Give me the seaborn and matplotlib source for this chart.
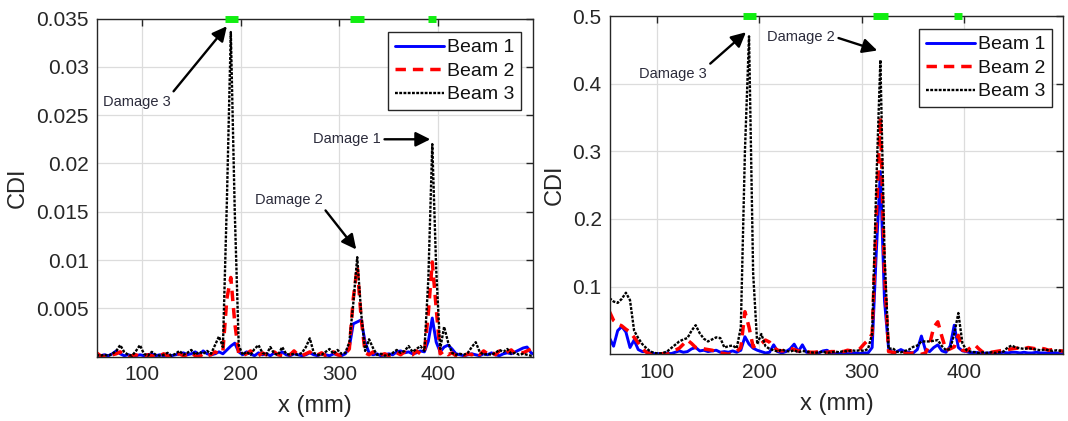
import matplotlib
matplotlib.use("Agg")
import matplotlib.pyplot as plt
import numpy as np
import pandas as pd
import seaborn as sns

# ---------------- data ----------------
x_mm = [54, 58, 62, 66, 70, 74, 78, 82, 86, 90, 94, 98, 102, 106, 110, 114, 118, 122, 126, 130,
        134, 138, 142, 146, 150, 154, 158, 162, 166, 170, 174, 178, 182, 186, 190, 194, 198, 202, 206, 210,
        214, 218, 222, 226, 230, 234, 238, 242, 246, 250, 254, 258, 262, 266, 270, 274, 278, 282, 286, 290,
        294, 298, 302, 306, 310, 314, 318, 322, 326, 330, 334, 338, 342, 346, 350, 354, 358, 362, 366, 370,
        374, 378, 382, 386, 390, 394, 398, 402, 406, 410, 414, 418, 422, 426, 430, 434, 438, 442, 446, 450,
        454, 458, 462, 466, 470, 474, 478, 482, 486, 490, 494, 498]

# left panel, CDI in units of 1e-3
left_beam1 = [0.1, 0.1, 0.2, 0.1, 0.3, 0.6, 0.3, 0.1, 0.2, 0.1, 0.1, 0.2, 0.1, 0.2, 0.3, 0.1, 0.2, 0.1, 0.2, 0.1,
              0.2, 0.3, 0.4, 0.2, 0.3, 0.5, 0.2, 0.6, 0.3, 0.2, 0.3, 0.5, 0.3, 0.7, 1.1, 1.4, 0.5, 0.2, 0.5, 0.3,
              0.1, 0.4, 0.2, 0.3, 0.1, 0.4, 0.2, 0.5, 0.2, 0.1, 0.3, 0.2, 0.1, 0.2, 0.4, 0.2, 0.1, 0.3, 0.2, 0.1,
              0.3, 0.2, 0.1, 0.3, 1.0, 3.4, 3.6, 3.8, 1.5, 0.4, 0.2, 0.3, 0.1, 0.2, 0.3, 0.2, 0.5, 0.6, 0.4, 0.5,
              0.3, 0.4, 0.6, 0.5, 1.6, 4.0, 1.5, 0.5, 1.0, 1.2, 0.8, 0.3, 0.2, 0.1, 0.2, 0.3, 0.2, 0.1, 0.3, 0.2,
              0.4, 0.2, 0.1, 0.3, 0.4, 0.3, 0.5, 0.7, 0.9, 1.0, 0.4, 0.2]
left_beam2 = [0.4, 0.1, 0.0, 0.1, 0.2, 0.3, 0.5, 0.2, 0.0, 0.1, 0.2, 0.0, 0.1, 0.2, 0.1, 0.0, 0.1, 0.3, 0.1, 0.0,
              0.2, 0.3, 0.1, 0.2, 0.4, 0.1, 0.0, 0.3, 0.1, 0.2, 0.5, 0.3, 0.6, 6.0, 8.2, 3.5, 0.3, 0.1, 0.3, 0.6,
              0.2, 0.1, 0.4, 0.2, 0.1, 0.5, 0.2, 0.1, 0.3, 0.2, 0.6, 0.2, 0.1, 0.3, 0.5, 0.1, 0.2, 0.4, 0.1, 0.2,
              0.5, 0.2, 0.1, 0.3, 0.8, 6.0, 9.3, 4.0, 0.4, 0.2, 0.5, 0.1, 0.2, 0.3, 0.1, 0.2, 0.4, 0.2, 0.5, 0.3,
              0.2, 0.6, 0.3, 0.4, 4.5, 9.8, 5.0, 0.3, 0.6, 0.2, 0.4, 0.1, 0.2, 0.1, 0.3, 0.2, 0.5, 0.2, 0.6, 0.3,
              0.5, 0.2, 0.6, 0.3, 0.5, 0.7, 0.3, 0.5, 0.4, 0.6, 0.8, 0.7]
left_beam3 = [0.2, 0.1, 0.2, 0.1, 0.3, 0.6, 1.2, 0.5, 0.2, 0.1, 0.6, 1.2, 0.3, 0.1, 0.5, 0.2, 0.1, 0.2, 0.4, 0.1,
              0.3, 0.6, 0.2, 0.4, 0.7, 0.2, 0.5, 0.3, 0.6, 0.3, 1.2, 2.1, 1.0, 16.0, 33.6, 15.0, 1.2, 0.2, 0.5, 0.2,
              0.8, 1.2, 0.4, 0.2, 1.0, 0.3, 0.2, 1.0, 0.3, 0.2, 0.3, 0.2, 0.4, 1.0, 1.9, 0.4, 0.2, 0.2, 0.5, 0.8,
              0.3, 0.7, 0.3, 0.4, 1.5, 5.5, 10.3, 4.5, 0.6, 1.8, 0.9, 0.2, 0.3, 0.1, 0.2, 0.4, 0.7, 0.4, 0.6, 1.1,
              0.5, 0.8, 1.1, 0.6, 8.0, 22.0, 9.0, 0.8, 3.1, 1.5, 0.4, 0.2, 0.3, 0.2, 0.4, 1.0, 1.5, 0.5, 0.2, 0.3,
              0.2, 0.4, 0.7, 0.5, 0.8, 0.3, 0.4, 0.2, 0.3, 0.2, 0.1, 0.1]

# right panel, CDI
right_beam1 = [0.024, 0.012, 0.035, 0.041, 0.033, 0.010, 0.021, 0.007, 0.004, 0.004, 0.002, 0.001, 0.001, 0.001,
               0.002, 0.001, 0.003, 0.005, 0.003, 0.004, 0.008, 0.010, 0.005, 0.006, 0.004, 0.005, 0.006, 0.003,
               0.004, 0.003, 0.005, 0.003, 0.006, 0.026, 0.015, 0.009, 0.006, 0.004, 0.002, 0.003, 0.014, 0.004,
               0.002, 0.004, 0.008, 0.015, 0.004, 0.014, 0.003, 0.002, 0.001, 0.002, 0.005, 0.006, 0.002, 0.001,
               0.001, 0.002, 0.001, 0.001, 0.002, 0.001, 0.002, 0.002, 0.010, 0.150, 0.270, 0.080, 0.009, 0.002,
               0.004, 0.007, 0.004, 0.003, 0.002, 0.007, 0.027, 0.006, 0.004, 0.010, 0.014, 0.005, 0.003, 0.012,
               0.043, 0.010, 0.005, 0.004, 0.002, 0.003, 0.002, 0.001, 0.002, 0.002, 0.003, 0.002, 0.003, 0.002,
               0.003, 0.003, 0.002, 0.003, 0.002, 0.002, 0.003, 0.002, 0.002, 0.002, 0.002, 0.002, 0.001, 0.001]
right_beam2 = [0.063, 0.050, 0.045, 0.042, 0.037, 0.033, 0.025, 0.017, 0.008, 0.003, 0.001, 0.000, 0.000, 0.001,
               0.000, 0.003, 0.006, 0.009, 0.015, 0.021, 0.016, 0.010, 0.009, 0.008, 0.007, 0.006, 0.004, 0.002,
               0.001, 0.000, 0.002, 0.004, 0.010, 0.063, 0.040, 0.011, 0.014, 0.016, 0.021, 0.018, 0.010, 0.006,
               0.005, 0.006, 0.009, 0.007, 0.005, 0.004, 0.004, 0.003, 0.003, 0.004, 0.003, 0.003, 0.004, 0.004,
               0.005, 0.004, 0.006, 0.005, 0.006, 0.008, 0.015, 0.021, 0.030, 0.200, 0.350, 0.120, 0.004, 0.003,
               0.002, 0.001, 0.002, 0.001, 0.002, 0.001, 0.000, 0.002, 0.015, 0.040, 0.048, 0.026, 0.006, 0.008,
               0.011, 0.028, 0.006, 0.005, 0.010, 0.014, 0.008, 0.003, 0.002, 0.003, 0.004, 0.005, 0.006, 0.007,
               0.008, 0.009, 0.009, 0.008, 0.010, 0.009, 0.008, 0.009, 0.008, 0.006, 0.007, 0.006, 0.005, 0.005]
right_beam3 = [0.083, 0.078, 0.076, 0.082, 0.091, 0.080, 0.035, 0.024, 0.015, 0.009, 0.004, 0.002, 0.001, 0.002,
               0.004, 0.009, 0.014, 0.019, 0.022, 0.024, 0.035, 0.043, 0.031, 0.023, 0.019, 0.022, 0.025, 0.024,
               0.010, 0.012, 0.013, 0.009, 0.040, 0.300, 0.470, 0.120, 0.015, 0.030, 0.012, 0.008, 0.006, 0.004,
               0.007, 0.005, 0.004, 0.006, 0.003, 0.005, 0.004, 0.003, 0.002, 0.003, 0.004, 0.002, 0.003, 0.004,
               0.003, 0.005, 0.004, 0.006, 0.005, 0.006, 0.005, 0.008, 0.030, 0.250, 0.435, 0.150, 0.008, 0.009,
               0.004, 0.003, 0.005, 0.007, 0.011, 0.013, 0.019, 0.019, 0.019, 0.020, 0.021, 0.012, 0.006, 0.008,
               0.030, 0.061, 0.016, 0.006, 0.004, 0.003, 0.002, 0.003, 0.002, 0.003, 0.002, 0.003, 0.004, 0.010,
               0.013, 0.010, 0.009, 0.008, 0.009, 0.008, 0.007, 0.006, 0.007, 0.006, 0.005, 0.006, 0.005, 0.004]

# damage zones shown as green bars on the top edge (mm)
damage_start = [184, 311, 390]
damage_end = [197, 325, 398]

series_names = ["Beam 1", "Beam 2", "Beam 3"]
left_yticks = [0.005, 0.01, 0.015, 0.02, 0.025, 0.03, 0.035]
left_yticklabels = ["0.005", "0.01", "0.015", "0.02", "0.025", "0.03", "0.035"]
right_yticks = [0.1, 0.2, 0.3, 0.4, 0.5]
right_yticklabels = ["0.1", "0.2", "0.3", "0.4", "0.5"]
xticks = [100, 200, 300, 400]

# ---------------- style ----------------
sns.set_theme(style="white")
plt.rcParams["font.family"] = ["Liberation Sans", "DejaVu Sans"]
plt.rcParams["axes.edgecolor"] = "#262626"

W, H = 1068, 421
fig = plt.figure(figsize=(W / 100, H / 100), dpi=100)
fig.patch.set_facecolor("white")

ax_l = fig.add_axes([97 / W, 1 - 356.7 / H, 436 / W, 338.2 / H])
ax_r = fig.add_axes([610 / W, 1 - 354.3 / H, 453 / W, 338.3 / H])

styles = [
    dict(color="#0000ff", lw=2.1, linestyle="-"),
    dict(color="#ff0000", lw=2.5, linestyle=(0, (3, 2))),
    dict(color="#000000", lw=1.7, linestyle=(0, (1.2, 0.6))),
]


def draw(ax, ys, scale, ymax, yticks, yticklabels):
    for name, y, st in zip(series_names, ys, styles):
        df = pd.DataFrame({"x": x_mm, "y": np.asarray(y) * scale})
        sns.lineplot(data=df, x="x", y="y", ax=ax, label=name, **st)
    ax.set_xlim(54.5, 496)
    ax.set_ylim(0, ymax)
    ax.set_xticks(xticks)
    ax.set_xticklabels([str(t) for t in xticks])
    ax.set_yticks(yticks)
    ax.set_yticklabels(yticklabels)
    ax.grid(True, color="#dcdcdc", lw=0.9)
    ax.set_axisbelow(True)
    ax.tick_params(direction="in", length=5, width=1, top=True, right=True,
                   labelsize=15, colors="#262626", pad=6)
    for s in ax.spines.values():
        s.set_visible(True)
        s.set_linewidth(1.0)
        s.set_color("#262626")
    ax.set_xlabel("x (mm)", fontsize=17, color="#262626", labelpad=8)
    ax.set_ylabel("CDI", fontsize=17, color="#262626", labelpad=5)
    for a, b in zip(damage_start, damage_end):
        ax.plot([a, b], [ymax, ymax], color="#11ee11", lw=5, solid_capstyle="butt",
                clip_on=False, zorder=6)


draw(ax_l, [left_beam1, left_beam2, left_beam3], 1e-3, 0.035, left_yticks, left_yticklabels)
draw(ax_r, [right_beam1, right_beam2, right_beam3], 1.0, 0.5, right_yticks, right_yticklabels)


def legend(ax, dx, dy, width_px, height_px):
    leg = ax.legend(loc="upper right", bbox_to_anchor=(1 - dx / width_px, 1 - dy / height_px),
                    borderaxespad=0, fontsize=14, handlelength=2.5, handletextpad=0.15,
                    labelspacing=0.3, borderpad=0.35, fancybox=False, framealpha=1,
                    edgecolor="#262626")
    leg.get_frame().set_linewidth(1.0)
    for t in leg.get_texts():
        t.set_color("#111111")


legend(ax_l, 12, 13.5, 436, 338)
legend(ax_r, 11, 13, 453, 338)

ann = dict(fontsize=10.5, color="#2b2b3b", ha="center", va="center")
arrow = dict(arrowstyle="-|>", color="black", lw=1.7, mutation_scale=22, shrinkA=0, shrinkB=0)

ax_l.annotate("Damage 3", xy=(186, 0.0342), xytext=(95, 0.0264), arrowprops=dict(arrow, relpos=(1.0, 1.0)), **ann)
ax_l.annotate("Damage 1", xy=(392, 0.0225), xytext=(308, 0.0225), arrowprops=dict(arrow, relpos=(1.0, 0.5)), **ann)
ax_l.annotate("Damage 2", xy=(317, 0.0111), xytext=(249, 0.0162), arrowprops=dict(arrow, relpos=(1.0, 0.0)), **ann)

ax_r.annotate("Damage 3", xy=(187, 0.476), xytext=(116, 0.415), arrowprops=dict(arrow, relpos=(1.0, 1.0)), **ann)
ax_r.annotate("Damage 2", xy=(315, 0.449), xytext=(241, 0.469), arrowprops=dict(arrow, relpos=(1.0, 0.5)), **ann)

fig.savefig("out.png", dpi=100, facecolor="white")
